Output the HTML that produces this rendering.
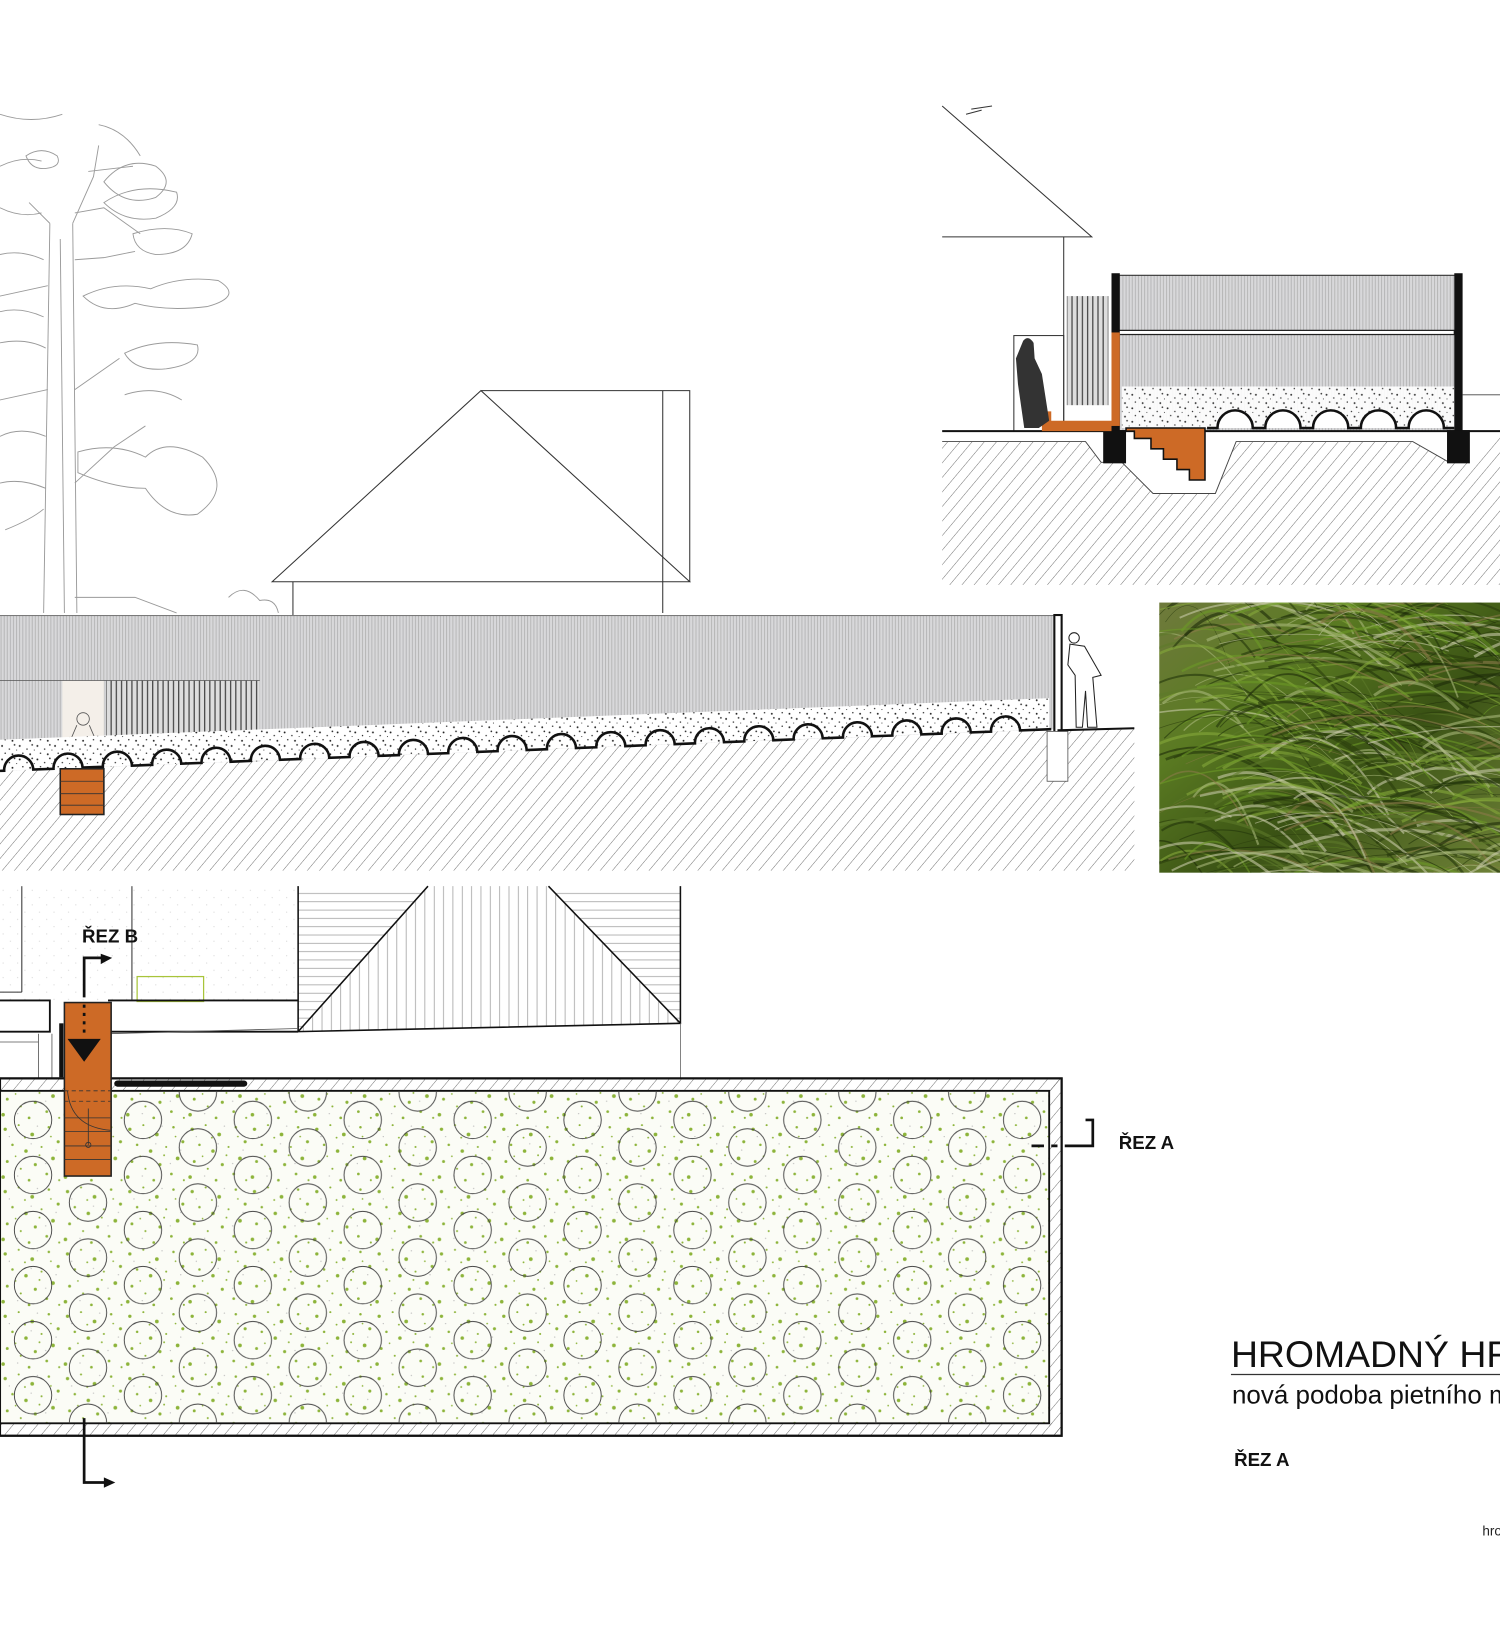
<!DOCTYPE html>
<html><head><meta charset="utf-8"><style>
html,body{margin:0;padding:0;background:#fff;overflow:hidden}
svg{display:block}
text{font-family:"Liberation Sans",sans-serif}
</style></head><body>
<svg id="s" width="1500" height="1629" viewBox="0 0 1444 1568" preserveAspectRatio="none" xmlns="http://www.w3.org/2000/svg">
<defs>
<pattern id="hat" patternUnits="userSpaceOnUse" width="9" height="9" patternTransform="rotate(40)">
<line x1="0" y1="0" x2="0" y2="9" stroke="#555" stroke-width="0.8"/></pattern>
<pattern id="vs" patternUnits="userSpaceOnUse" width="3" height="10">
<rect width="3" height="10" fill="#d8d8da"/><line x1="1" y1="0" x2="1" y2="10" stroke="#aaa" stroke-width="0.7"/></pattern>
<pattern id="vsd" patternUnits="userSpaceOnUse" width="5" height="10">
<rect width="5" height="10" fill="#ddd"/><line x1="2" y1="0" x2="2" y2="10" stroke="#444" stroke-width="1.2"/></pattern>
<pattern id="hl" patternUnits="userSpaceOnUse" width="10" height="8">
<line x1="0" y1="4" x2="10" y2="4" stroke="#999" stroke-width="0.7"/></pattern>
<pattern id="vl" patternUnits="userSpaceOnUse" width="9" height="10">
<rect width="9" height="10" fill="#fff"/><line x1="4" y1="0" x2="4" y2="10" stroke="#999" stroke-width="0.7"/></pattern>
<pattern id="grn" patternUnits="userSpaceOnUse" width="60" height="60">
<rect width="60" height="60" fill="#fbfcf6"/>
<g fill="#8db43a">
<circle cx="5" cy="7" r="1.6"/><circle cx="18" cy="3" r="1"/><circle cx="31" cy="12" r="1.8"/><circle cx="47" cy="5" r="1.2"/><circle cx="56" cy="19" r="1.5"/>
<circle cx="12" cy="22" r="1.2"/><circle cx="25" cy="28" r="1.7"/><circle cx="40" cy="24" r="1"/><circle cx="51" cy="35" r="1.8"/><circle cx="7" cy="38" r="1.4"/>
<circle cx="20" cy="45" r="1"/><circle cx="34" cy="41" r="1.5"/><circle cx="45" cy="50" r="1.3"/><circle cx="57" cy="56" r="1"/><circle cx="3" cy="53" r="1.7"/>
<circle cx="28" cy="56" r="1.3"/><circle cx="15" cy="33" r="0.8"/><circle cx="38" cy="32" r="0.9"/><circle cx="49" cy="14" r="0.8"/><circle cx="24" cy="15" r="0.9"/>
</g>
<g fill="#bbb"><circle cx="9" cy="14" r="0.6"/><circle cx="36" cy="4" r="0.6"/><circle cx="44" cy="40" r="0.6"/><circle cx="17" cy="52" r="0.6"/><circle cx="54" cy="27" r="0.6"/><circle cx="30" cy="21" r="0.6"/></g>
</pattern>
<pattern id="circ" patternUnits="userSpaceOnUse" x="5.3" y="1051.5" width="105.8" height="53">
<g fill="none" stroke="#444" stroke-width="0.9"><circle cx="26.5" cy="26.5" r="18"/><circle cx="79.4" cy="0" r="18"/><circle cx="79.4" cy="53" r="18"/></g>
</pattern>
<pattern id="dots" patternUnits="userSpaceOnUse" width="14" height="14">
<circle cx="3" cy="3" r="0.5" fill="#ccc"/><circle cx="10" cy="10" r="0.5" fill="#ccc"/></pattern>
<pattern id="gravel" patternUnits="userSpaceOnUse" width="17" height="13">
<rect width="17" height="13" fill="#fff"/><g fill="#222"><circle cx="2" cy="3" r="0.9"/><circle cx="9" cy="6" r="0.7"/><circle cx="14" cy="2" r="0.8"/><circle cx="5" cy="10" r="0.7"/><circle cx="12" cy="11" r="0.9"/><circle cx="16" cy="7" r="0.5"/></g></pattern>
<linearGradient id="gr1" x1="0" y1="0" x2="1" y2="1"><stop offset="0" stop-color="#6f7a3c"/><stop offset="0.3" stop-color="#5a7a22"/><stop offset="0.6" stop-color="#3a5214"/><stop offset="1" stop-color="#6f8238"/></linearGradient>
<clipPath id="gc"><rect x="1116" y="580" width="328" height="260"/></clipPath>
</defs>

<!-- TREE -->
<g fill="none" stroke="#9a9a9a" stroke-width="0.9">
<path d="M48 215 L42 590 M70 215 L74 590 M58 230 L62 590"/>
<path d="M48 215 L28 195 M70 215 L90 170 L95 140 M85 165 L128 160 M72 205 L100 200 L135 225 M72 250 L100 248 L130 242 M72 375 L115 345 M72 465 L110 430 L140 410 M72 575 L130 575 L170 590 M46 275 L0 285 M46 375 L0 385"/>
<path d="M25 150 Q40 140 55 150 Q60 160 45 162 Q30 164 25 150Z"/>
<path d="M100 175 Q120 150 150 160 Q170 175 150 190 Q120 200 100 175Z"/>
<path d="M100 195 Q130 175 170 185 Q175 200 150 210 Q120 215 100 195Z"/>
<path d="M128 225 Q160 215 185 225 Q180 245 150 245 Q130 242 128 225Z"/>
<path d="M80 285 Q110 270 145 278 Q175 265 210 270 Q235 285 200 295 Q160 300 130 292 Q100 305 80 285Z"/>
<path d="M120 340 Q150 325 190 332 Q195 350 160 355 Q130 358 120 340Z"/>
<path d="M75 435 Q110 425 140 440 Q160 420 195 440 Q225 470 190 495 Q160 500 140 470 Q110 470 75 455Z"/>
<path d="M5 510 Q30 500 42 490 M0 245 Q20 240 42 250 M0 200 Q20 210 40 205 M0 160 Q20 150 40 155 M0 110 Q30 120 60 110 M95 120 Q120 125 135 150"/>
<path d="M0 300 Q20 295 42 305 M0 330 Q25 325 44 335 M0 420 Q20 410 44 420 M0 465 Q20 460 44 470 M120 380 Q150 370 175 385"/>
<path d="M220 575 Q235 560 250 578 Q265 575 268 590"/>
</g>

<!-- HOUSE ELEVATION -->
<g fill="none" stroke="#333" stroke-width="1">
<path d="M262 560 L463 376 L664 560 Z"/>
<path d="M463 376 L664 376 L664 560 M638 376 L638 590 M282 560 L282 592"/>
</g>

<!-- LONG SECTION -->
<path d="M0 592 L1015 592 L1015 702 L0 742 Z" fill="url(#vs)"/>
<rect x="0" y="592" width="1015" height="1" fill="#777"/>
<rect x="60" y="655" width="40" height="85" fill="#f4efe9"/>
<rect x="102" y="655" width="148" height="78" fill="url(#vsd)"/>
<line x1="0" y1="655" x2="250" y2="655" stroke="#555" stroke-width="0.8"/>
<g fill="none" stroke="#555" stroke-width="0.8"><circle cx="80" cy="692" r="6"/><path d="M74 698 L68 712 L70 735 L90 735 L92 712 L86 698"/></g>
<path d="M0 742 L1010 702 L1092 702 L1092 838 L0 838 Z" fill="url(#hat)"/>
<g id="gravelzone"></g>
<path id="arcs" d="" fill="none" stroke="#111" stroke-width="2.5"/>
<rect x="58" y="740" width="42" height="44" fill="#cd6a26" stroke="#222" stroke-width="1.5"/>
<g stroke="#333" stroke-width="0.8"><line x1="58" y1="752" x2="100" y2="752"/><line x1="58" y1="764" x2="100" y2="764"/><line x1="58" y1="775" x2="100" y2="775"/></g>
<rect x="1015" y="592" width="7" height="113" fill="#fff" stroke="#111" stroke-width="2"/>
<rect x="1008" y="704" width="20" height="48" fill="#fff" stroke="#555" stroke-width="0.8"/>
<line x1="1018" y1="703" x2="1092" y2="701" stroke="#111" stroke-width="2"/>
<g fill="none" stroke="#222" stroke-width="1"><circle cx="1034" cy="614" r="5"/><path d="M1030 620 L1044 622 L1060 650 L1052 652 L1056 700 L1047 700 L1045 665 L1042 700 L1036 700 L1035 650 L1028 640 Z"/></g>

<!-- GRASS PHOTO -->
<rect x="1116" y="580" width="328" height="260" fill="url(#gr1)"/>
<g id="grass" fill="none" clip-path="url(#gc)"></g>

<!-- TOP RIGHT SECTION -->
<g fill="none" stroke="#333" stroke-width="1">
<path d="M907 102 L1051 228 L907 228 M1024 228 L1024 415 M935 105 L955 102 M930 110 L945 106"/>
<rect x="976" y="323" width="48" height="92"/>
</g>
<rect x="1027" y="285" width="40" height="105" fill="url(#vsd)"/>
<rect x="1075" y="265" width="328" height="150" fill="url(#vs)"/>
<rect x="1080" y="372" width="320" height="40" fill="url(#gravel)" opacity="0.9"/>
<line x1="1075" y1="265" x2="1403" y2="265" stroke="#333" stroke-width="1"/>
<rect x="1076" y="318" width="324" height="4" fill="#fff" stroke="#222" stroke-width="1.2"/>
<path d="M907 425 L1045 425 L1060 445 L1080 445 L1110 475 L1170 475 L1190 425 L1360 425 L1395 445 L1415 445 L1444 420 L1444 563 L907 563 Z" fill="url(#hat)"/>
<path d="M907 425 L1045 425 L1060 445 L1080 445 L1110 475 L1170 475 L1190 425 L1360 425 L1395 445" fill="none" stroke="#444" stroke-width="0.9"/>
<line x1="907" y1="415" x2="1444" y2="415" stroke="#111" stroke-width="2"/>
<line x1="1408" y1="380" x2="1444" y2="380" stroke="#444" stroke-width="0.8"/>
<path id="arcs2" d="" fill="#fff" stroke="#111" stroke-width="2.5"/>
<rect x="1070" y="263" width="8" height="152" fill="#111"/>
<rect x="1400" y="263" width="8" height="152" fill="#111"/>
<rect x="1070" y="320" width="8" height="90" fill="#cd6a26"/>
<rect x="1062" y="414" width="22" height="32" fill="#111"/>
<rect x="1393" y="414" width="22" height="32" fill="#111"/>
<path d="M1003 396 L1012 396 L1012 405 L1070 405 L1070 415 L1003 415 Z" fill="#cd6a26"/>
<path d="M1084 412 L1160 412 L1160 462 L1145 462 L1145 452 L1133 452 L1133 442 L1120 442 L1120 432 L1108 432 L1108 422 L1092 422 L1092 415 L1084 415 Z" fill="#cd6a26" stroke="#111" stroke-width="1.5"/>
<path d="M985 328 Q990 322 995 330 L996 345 L1003 360 L1010 405 L1000 412 L986 412 L980 370 L978 345 Z" fill="#333"/>

<!-- PLAN TOP -->
<rect x="0" y="853" width="287" height="112" fill="url(#dots)"/>
<g fill="none" stroke="#333" stroke-width="1">
<line x1="21" y1="853" x2="21" y2="955"/><line x1="0" y1="955" x2="21" y2="955"/>
<line x1="127" y1="853" x2="127" y2="962"/>
</g>
<rect x="132" y="940" width="64" height="24" fill="none" stroke="#a8c43a" stroke-width="1.2"/>
<path d="M287 853 L655 853 L655 985 L287 993 Z" fill="url(#hl)"/>
<path d="M287 993 L412 853 L528 853 L655 985 Z" fill="url(#vl)"/>
<path d="M287 993 L412 853 M528 853 L655 985" fill="none" stroke="#111" stroke-width="1.5"/>
<path d="M287 853 L287 993 L655 985 L655 853" fill="none" stroke="#111" stroke-width="1.5"/>
<line x1="655" y1="985" x2="655" y2="1038" stroke="#666" stroke-width="0.8"/>
<g fill="none" stroke="#111" stroke-width="1.8">
<path d="M0 963 L48 963 L48 993 L0 993 M104 963 L287 963 M104 993 L287 993"/>
</g>
<path d="M104 995 L287 990" stroke="#555" stroke-width="0.8"/>
<g stroke="#555" stroke-width="0.8"><line x1="37" y1="995" x2="37" y2="1038"/><line x1="50" y1="995" x2="50" y2="1038"/><line x1="0" y1="1003" x2="37" y2="1003"/></g>

<!-- PLAN -->
<rect x="0" y="1038" width="1022" height="344" fill="#fff" stroke="#111" stroke-width="2"/>
<rect x="0" y="1038" width="1022" height="12" fill="url(#hat)"/>
<rect x="1010" y="1038" width="12" height="344" fill="url(#hat)"/>
<rect x="0" y="1370" width="1022" height="12" fill="url(#hat)"/>
<rect x="0" y="1050" width="1010" height="320" fill="url(#grn)" stroke="#111" stroke-width="1.8"/>
<rect x="0" y="1050" width="1010" height="320" fill="url(#circ)"/>
<rect x="0" y="1038" width="1022" height="344" fill="none" stroke="#111" stroke-width="2"/>
<rect x="110" y="1040" width="128" height="6" rx="3" fill="#111"/>
<rect x="62" y="965" width="45" height="167" fill="#cd6a26" stroke="#222" stroke-width="1.5"/>
<g stroke="#333" stroke-width="0.8" fill="none">
<line x1="62" y1="1050" x2="107" y2="1050" stroke-dasharray="4 3"/>
<line x1="62" y1="1060" x2="107" y2="1060" stroke-dasharray="4 3"/>
<line x1="62" y1="1103" x2="107" y2="1103"/><line x1="62" y1="1116" x2="107" y2="1116"/><line x1="62" y1="1089" x2="107" y2="1089"/><line x1="62" y1="1076" x2="107" y2="1076"/>
<line x1="85" y1="1067" x2="85" y2="1102"/><circle cx="85" cy="1102" r="2.5"/>
<path d="M65 1050 Q68 1085 107 1088"/>
</g>
<rect x="57" y="985" width="4" height="52" fill="#111"/>
<path d="M65 1000 L97 1000 L81 1022 Z" fill="#111"/>
<g fill="none" stroke="#111" stroke-width="2.6">
<path d="M81 960 L81 922 L100 922"/>
<path d="M81 967 L81 995" stroke-dasharray="3 5"/>
<path d="M81 1365 L81 1427 L105 1427"/>
<path d="M993 1103 L1005 1103 M1012 1103 L1018 1103 M1025 1103 L1052 1103 L1052 1078 L1045 1078"/>
</g>
<path d="M97 918 L108 922 L97 928 Z" fill="#111"/>
<path d="M100 1422 L111 1427 L100 1432 Z" fill="#111"/>
<text x="79" y="907" font-size="18" font-weight="bold" fill="#111">ŘEZ B</text>
<text x="1077" y="1106" font-size="18" font-weight="bold" fill="#111">ŘEZ A</text>

<!-- TITLE -->
<text x="1185" y="1316" font-size="36" fill="#111">HROMADNÝ HROB</text>
<line x1="1185" y1="1323" x2="1444" y2="1323" stroke="#333" stroke-width="1.2"/>
<text x="1186" y="1351" font-size="25" fill="#111">nová podoba pietního místa</text>
<text x="1188" y="1411" font-size="18" font-weight="bold" fill="#111">ŘEZ A</text>
<text x="1427" y="1478" font-size="13" fill="#222">hromadny</text>
</svg>
<script>
(function(){
var NS="http://www.w3.org/2000/svg";
var gz=document.getElementById('gravelzone');
function y(x){return 742-40*x/1010;}
var p=document.createElementNS(NS,'path');
p.setAttribute('d',"M0 "+(y(0)-30)+" L1010 "+(y(1010)-30)+" L1010 "+y(1010)+" L0 "+y(0)+" Z");
p.setAttribute('fill','url(#gravel)');gz.appendChild(p);
var d="M0 742";
for(var c=18;c<1000;c+=47.5){var a=c-14,b=c+14;d+=" L"+a+" "+y(a)+" A14 14 0 0 1 "+b+" "+y(b);}
d+=" L1012 "+y(1012);
document.getElementById('arcs').setAttribute('d',d);
var d2="M1162 412";for(var c=1172;c<1380;c+=46){d2+=" L"+c+" 412 A17 17 0 0 1 "+(c+34)+" 412";}
document.getElementById('arcs2').setAttribute('d',d2+" L1400 412");
var gg=document.getElementById('grass'),seed=7;function r(){seed=(seed*9301+49297)%233280;return seed/233280;}
var cols=["#a9b87a","#2a3c0c","#86a83a","#5d7a2a","#c8c9a8","#22330a","#6d9a26","#8a7a4a","#1c2a08"];
for(var i=0;i<320;i++){var x0=1090+r()*340,y0=560+r()*290,len=60+r()*160,dy=-10+r()*70;
var q=document.createElementNS(NS,'path');
q.setAttribute('d',"M"+x0+" "+y0+" q"+(len/2)+" "+(-20-30*r())+" "+len+" "+dy);
q.setAttribute('stroke',cols[Math.floor(r()*cols.length)]);q.setAttribute('stroke-width',(0.5+r()*2.5).toFixed(1));q.setAttribute('opacity','0.6');
gg.appendChild(q);}
})();
</script>
</body></html>
